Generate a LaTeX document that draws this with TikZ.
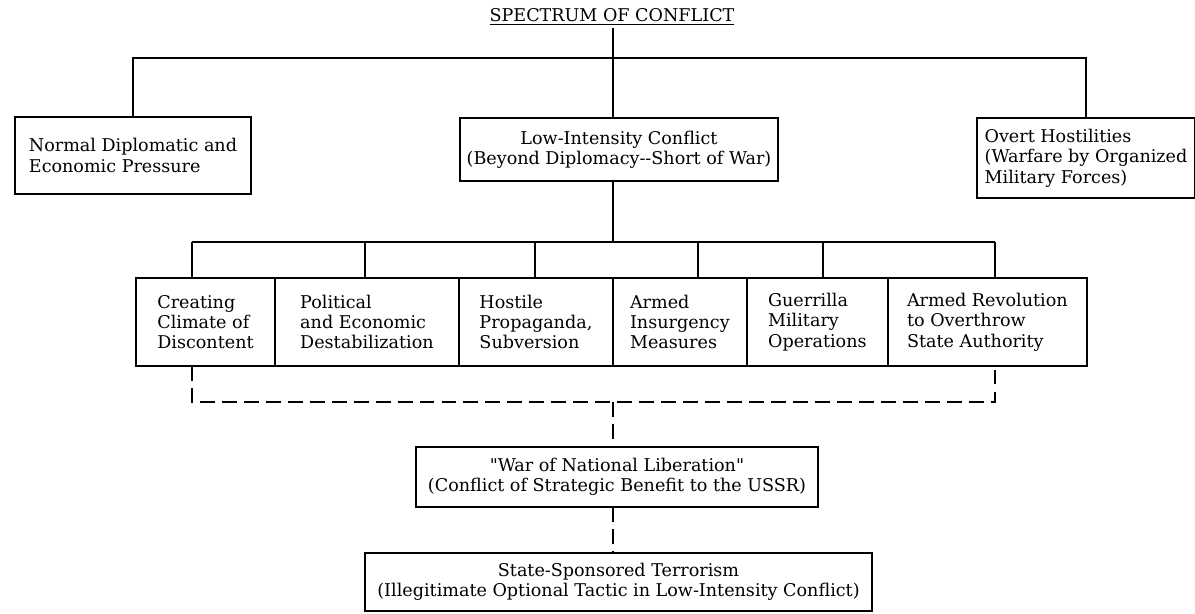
\documentclass[tikz,border=0pt]{standalone}
\usepackage{fontspec}
\setmainfont{DejaVu Serif}[Ligatures=TeXOff]
\usetikzlibrary{positioning}
\newcommand\chartfont{\fontsize{10}{11.6}\selectfont}

\begin{document}
\begin{tikzpicture}[x=0.02cm,y=-0.02cm,
    box/.style={draw,line width=1pt,inner sep=2pt,outer sep=0pt,align=left,font=\chartfont},
    cbox/.style={box,align=center},
    rowbox/.style={box,minimum height=1.76cm},
    link/.style={line width=1pt},
    dlink/.style={line width=1pt,dash pattern=on 8.5pt off 4pt}]
    \useasboundingbox (0,0) rectangle (1195,614);
    % Title
    \node[anchor=base,font=\chartfont,inner sep=1pt] (title) at (612,22) {\underline{SPECTRUM OF CONFLICT}};
    % Top row
    \node[box,minimum width=4.72cm,minimum height=1.54cm] (normal) at (133,155.5) {Normal Diplomatic and\\Economic Pressure};
    \node[cbox,minimum width=6.36cm,minimum height=1.26cm] (lic) at (619,149.5) {Low-Intensity Conflict\\(Beyond Diplomacy--Short of War)};
    \node[box,minimum width=4.36cm,minimum height=1.6cm] (overt) at (1086,158) {Overt Hostilities\\(Warfare by Organized\\Military Forces)};
    % Top tree
    \coordinate (top) at (613,58);
    \draw[link] (title.south -| top) -- (top |- lic.north);
    \draw[link] (normal.north) |- (top) -| (overt.north);
    % Six forms
    \node[rowbox,minimum width=2.78cm,anchor=west] (b1) at (136,322) {Creating\\Climate of\\Discontent};
    \node[rowbox,minimum width=3.68cm,right=0pt of b1] (b2) {Political\\and Economic\\Destabilization};
    \node[rowbox,minimum width=3.08cm,right=0pt of b2] (b3) {Hostile\\Propaganda,\\Subversion};
    \node[rowbox,minimum width=2.68cm,right=0pt of b3] (b4) {Armed\\Insurgency\\Measures};
    \node[rowbox,minimum width=2.82cm,right=0pt of b4] (b5) {Guerrilla\\Military\\Operations};
    \node[rowbox,minimum width=3.98cm,right=0pt of b5] (b6) {Armed Revolution\\to Overthrow\\State Authority};
    % LIC bar
    \coordinate (barL) at (192,242);
    \coordinate (barR) at (995,242);
    \draw[link] (top |- lic.south) -- (top |- barL);
    \draw[link] (barL) -- (barR);
    \foreach \n/\x in {b1/192,b2/365,b3/535,b4/698,b5/823,b6/995}{
        \coordinate (drop) at (\x,242);
        \draw[link] (drop) -- (drop |- \n.north);
    }
    % Bottom
    \node[cbox,minimum width=8.04cm,minimum height=1.2cm] (wnl) at (617,477) {"War of National Liberation"\\(Conflict of Strategic Benefit to the USSR)};
    \node[cbox,minimum width=10.14cm,minimum height=1.16cm] (sst) at (618.5,582) {State-Sponsored Terrorism\\(Illegitimate Optional Tactic in Low-Intensity Conflict)};
    % dashed bracket
    \coordinate (dashL) at (192,402);
    \coordinate (dashR) at (995,402);
    \coordinate (mid) at (613,402);
    \draw[dlink] (dashL |- b1.south) -- (dashL) -- (dashR) -- (dashR |- b6.south);
    \draw[dlink] (mid) -- (mid |- wnl.north);
    \draw[dlink] (mid |- wnl.south) -- (mid |- sst.north);
\end{tikzpicture}
\end{document}
